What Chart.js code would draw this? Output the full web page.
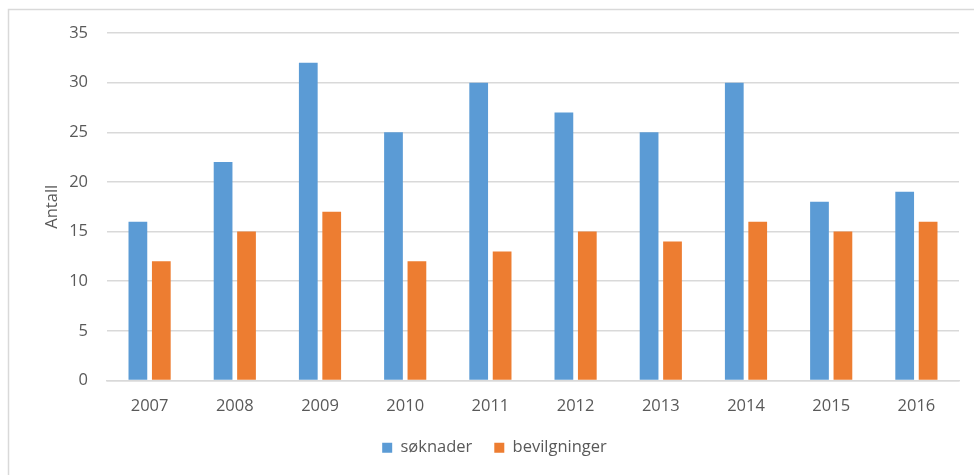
<!DOCTYPE html>
<html>
<head>
<meta charset="utf-8">
<script src="https://cdn.jsdelivr.net/npm/chart.js@4/dist/chart.umd.min.js"></script>
<style>
html,body{margin:0;padding:0;background:#fff;}
#wrap{position:relative;width:974px;height:475px;}
</style>
</head>
<body>
<div id="wrap"><canvas id="c" width="974" height="475"></canvas></div>
<script>
const years = ['2007','2008','2009','2010','2011','2012','2013','2014','2015','2016'];
const soknader = [16,22,32,25,30,27,25,30,18,19];
const bevilgninger = [12,15,17,12,13,15,14,16,15,16];
const yTicks = [0,5,10,15,20,25,30,35];

const FONT = "'Open Sans', 'Liberation Sans', sans-serif";
const TXT = '#595959';
const FS = 16.5;

const frame = {
  id: 'frame',
  beforeDraw(chart) {
    const ctx = chart.ctx;
    ctx.save();
    ctx.fillStyle = '#fff';
    ctx.fillRect(0, 0, chart.width, chart.height);
    ctx.strokeStyle = '#d9d9d9';
    ctx.lineWidth = 1.5;
    ctx.beginPath();
    ctx.moveTo(8.5, chart.height + 5);
    ctx.lineTo(8.5, 9.5);
    ctx.lineTo(chart.width + 5, 9.5);
    ctx.stroke();
    ctx.restore();
  }
};

new Chart(document.getElementById('c'), {
  type: 'bar',
  data: {
    labels: years,
    datasets: [
      { label: 'søknader', data: soknader, backgroundColor: '#5B9BD5', categoryPercentage: 0.55, barPercentage: 0.8 },
      { label: 'bevilgninger', data: bevilgninger, backgroundColor: '#ED7D31', categoryPercentage: 0.55, barPercentage: 0.8 }
    ]
  },
  options: {
    responsive: false,
    animation: false,
    devicePixelRatio: 1,
    layout: { padding: { left: 30, right: 15, top: 33, bottom: 9 } },
    plugins: {
      legend: {
        position: 'bottom',
        labels: { boxWidth: 10, boxHeight: 10, padding: 22, color: TXT, font: { family: FONT, size: FS } }
      },
      tooltip: { enabled: false }
    },
    scales: {
      x: {
        grid: { display: false, drawTicks: false },
        border: { display: true, color: '#d9d9d9', width: 1.5 },
        ticks: { color: TXT, padding: 16, font: { family: FONT, size: FS } },
        afterFit(s) { s.height = 37; }
      },
      y: {
        min: 0, max: 35,
        afterBuildTicks(s) { s.ticks = yTicks.map(v => ({ value: v })); },
        grid: { color: '#d9d9d9', lineWidth: 1.5, drawTicks: false },
        border: { display: false },
        ticks: { color: TXT, padding: 19, font: { family: FONT, size: FS } },
        title: { display: true, text: 'Antall', color: TXT, font: { family: FONT, size: FS }, padding: { top: 12, bottom: 0 } },
        afterFit(s) { s.width = 77; }
      }
    }
  },
  plugins: [frame]
});
</script>
</body>
</html>
